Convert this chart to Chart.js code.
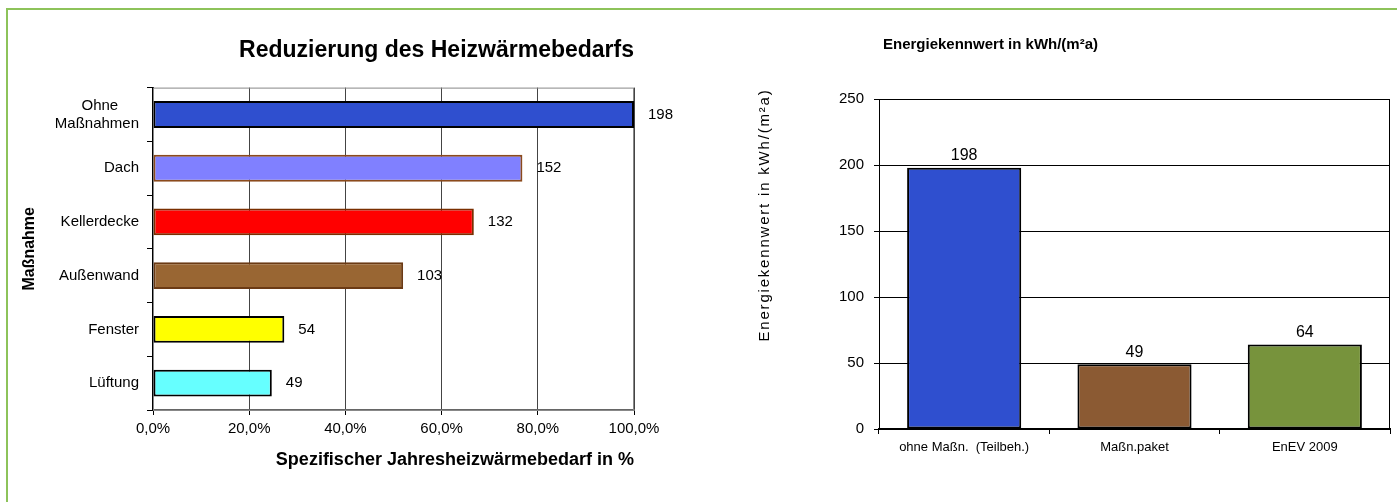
<!DOCTYPE html>
<html>
<head>
<meta charset="utf-8">
<script src="https://cdn.jsdelivr.net/npm/chart.js@4"></script>
<style>
  html, body { margin: 0; padding: 0; background: #fff; }
  #wrap { position: relative; width: 1397px; height: 502px; overflow: hidden; }
  #frame { position: absolute; left: 6px; top: 8px; width: 1400px; height: 600px;
           border-left: 2px solid #8dc35a; border-top: 2px solid #8dc35a; }
  #left { position: absolute; left: 0; top: 0; }
  #right { position: absolute; left: 700px; top: 0; }
</style>
</head>
<body>
<div id="wrap">
  <div id="frame"></div>
  <canvas id="left" width="700" height="502"></canvas>
  <canvas id="right" width="697" height="502"></canvas>
</div>
<script>
// left chart: reduction per measure
const measures = [['Ohne     ', 'Maßnahmen'], 'Dach', 'Kellerdecke', 'Außenwand', 'Fenster', 'Lüftung'];
const measureKwh = [198, 152, 132, 103, 54, 49];
const measureShare = [100, 76.8, 66.7, 52.0, 27.3, 24.7];
const measureColors = ['#2f4fcf', '#8080ff', '#ff0000', '#996633', '#ffff00', '#66ffff'];
const measureBorders = ['#000000', '#8b4a1c', '#7a2e00', '#6b3a14', '#000000', '#000000'];
const shareTicks = [0, 20, 40, 60, 80, 100];

// right chart: energy figures
const variants = ['ohne Maßn.  (Teilbeh.)', 'Maßn.paket', 'EnEV 2009'];
const variantKwh = [198, 49, 64];
const variantColors = ['#2f4fcf', '#8b5a33', '#77933c'];
const kwhTicks = [0, 50, 100, 150, 200, 250];

const FONT = '"Liberation Sans", Arial, sans-serif';
Chart.defaults.font.family = FONT;
Chart.defaults.color = '#000';

// frame around plot area
const frame = {
    id: 'frame',
    beforeDatasetsDraw(chart, args, opts) {
        const a = chart.chartArea, ctx = chart.ctx;
        ctx.save();
        ctx.strokeStyle = opts.color;
        ctx.lineWidth = 1;
        ctx.strokeRect(a.left + 0.5, a.top + 0.5, a.right - a.left - 1, a.bottom - a.top);
        ctx.restore();
    }
};

// value labels next to / above bars
const valueLabels = {
    id: 'valueLabels',
    afterDatasetsDraw(chart, args, opts) {
        const ctx = chart.ctx;
        const meta = chart.getDatasetMeta(0);
        ctx.save();
        ctx.font = opts.size + 'px ' + FONT;
        ctx.fillStyle = '#000';
        meta.data.forEach((bar, i) => {
            const txt = String(opts.values[i]);
            if (chart.options.indexAxis === 'y') {
                ctx.textAlign = 'left';
                ctx.textBaseline = 'middle';
                ctx.fillText(txt, bar.x + 14, bar.y);
            } else {
                ctx.textAlign = 'center';
                ctx.textBaseline = 'bottom';
                ctx.fillText(txt, bar.x, bar.y - 4);
            }
        });
        ctx.restore();
    }
};

// free titles for the right chart (top title and rotated side title)
const freeTitles = {
    id: 'freeTitles',
    afterDraw(chart, args, opts) {
        const ctx = chart.ctx;
        opts.items.forEach(t => {
            ctx.save();
            ctx.translate(t.x, t.y);
            if (t.rotate) ctx.rotate(-Math.PI / 2);
            ctx.font = (t.bold ? 'bold ' : '') + t.size + 'px ' + FONT;
            if (t.spacing) ctx.letterSpacing = t.spacing + 'px';
            ctx.fillStyle = '#000';
            ctx.textAlign = t.align;
            ctx.textBaseline = 'middle';
            ctx.fillText(t.text, 0, 0);
            ctx.restore();
        });
    }
};

new Chart(document.getElementById('left'), {
    type: 'bar',
    data: {
        labels: measures,
        datasets: [{
            data: measureShare,
            backgroundColor: measureColors,
            borderColor: measureBorders,
            borderWidth: 2,
            borderSkipped: false,
            barPercentage: 0.5,
            categoryPercentage: 1.0
        }]
    },
    options: {
        indexAxis: 'y',
        responsive: false,
        animation: false,
        layout: { padding: { top: 0, right: 66, bottom: 0, left: 0 } },
        plugins: {
            legend: { display: false },
            tooltip: { enabled: false },
            title: {
                display: true,
                text: 'Reduzierung des Heizwärmebedarfs',
                align: 'end',
                font: { size: 23, weight: 'bold' },
                color: '#000',
                padding: { top: 37, bottom: 23 }
            },
            frame: { color: '#888' },
            valueLabels: { values: measureKwh, size: 15 }
        },
        scales: {
            x: {
                min: 0, max: 100,
                afterBuildTicks: s => { s.ticks = shareTicks.map(v => ({ value: v })); },
                afterFit: s => { s.height = 92; },
                ticks: {
                    font: { size: 15 },
                    padding: 5,
                    callback: v => v.toFixed(1).replace('.', ',') + '%'
                },
                grid: { color: '#444', lineWidth: 1, tickLength: 5, tickColor: '#000' },
                border: { color: '#666', width: 2 },
                title: {
                    display: true,
                    text: 'Spezifischer Jahresheizwärmebedarf in %',
                    align: 'end',
                    font: { size: 18, weight: 'bold' },
                    padding: { top: 0, bottom: 31 }
                }
            },
            y: {
                afterFit: s => { s.width = 153; },
                ticks: { font: { size: 15 }, padding: 8 },
                grid: { offset: true, drawOnChartArea: false, tickLength: 6, color: '#000' },
                border: { color: '#000', width: 2 },
                title: {
                    display: true,
                    text: 'Maßnahme',
                    font: { size: 16, weight: 'bold' },
                    padding: { top: 20, bottom: 0 }
                }
            }
        }
    },
    plugins: [frame, valueLabels]
});

new Chart(document.getElementById('right'), {
    type: 'bar',
    data: {
        labels: variants,
        datasets: [{
            data: variantKwh,
            backgroundColor: variantColors,
            borderColor: '#000',
            borderWidth: 2,
            borderSkipped: false,
            barPercentage: 0.67,
            categoryPercentage: 1.0
        }]
    },
    options: {
        responsive: false,
        animation: false,
        layout: { padding: { top: 99, right: 7, bottom: 0, left: 0 } },
        plugins: {
            legend: { display: false },
            tooltip: { enabled: false },
            frame: { color: '#000' },
            valueLabels: { values: variantKwh, size: 16 },
            freeTitles: {
                items: [
                    { text: 'Energiekennwert in kWh/(m²a)', x: 183, y: 45, size: 15, bold: true, align: 'left' },
                    { text: 'Energiekennwert in kWh/(m²a)', x: 65, y: 215, size: 15, spacing: 1.8, rotate: true, align: 'center' }
                ]
            }
        },
        scales: {
            x: {
                afterFit: s => { s.height = 73; },
                ticks: { font: { size: 13 }, padding: 6 },
                grid: { offset: true, drawOnChartArea: false, tickLength: 5, color: '#000' },
                border: { color: '#000', width: 2 }
            },
            y: {
                min: 0, max: 250,
                afterBuildTicks: s => { s.ticks = kwhTicks.map(v => ({ value: v })); },
                afterFit: s => { s.width = 179; },
                ticks: { font: { size: 15 }, padding: 10 },
                grid: { color: '#000', tickLength: 5 },
                border: { color: '#000', width: 1 }
            }
        }
    },
    plugins: [frame, valueLabels, freeTitles]
});
</script>
</body>
</html>
